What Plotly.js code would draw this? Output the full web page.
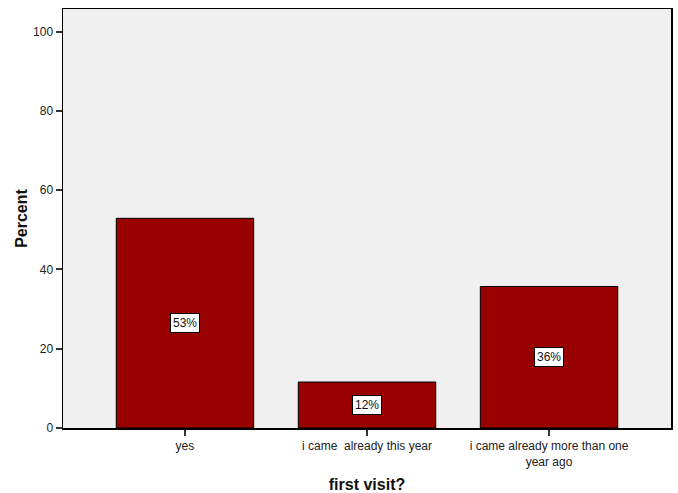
<!DOCTYPE html>
<html>
<head>
<meta charset="utf-8">
<script src="https://cdn.plot.ly/plotly-3.0.1.min.js"></script>
<style>html,body{margin:0;padding:0;background:#fff;}#chart{width:678px;height:493px;}</style>
</head>
<body>
<div id="chart"></div>
<script>
const categories = ["yes", "i came\u00a0 already this year", "i came already more than one<br>year ago"];
const percents = [52.9, 11.6, 35.7];
const labels = ["53%", "12%", "36%"];

const trace = {
  type: "bar",
  x: categories,
  y: percents,
  width: 0.755,
  marker: {color: "#990000", line: {color: "#000000", width: 1}},
  hoverinfo: "none"
};

const annotations = categories.map((c, i) => ({
  x: c, y: percents[i] / 2, xref: "x", yref: "y",
  text: labels[i], showarrow: false,
  bgcolor: "#ffffff", bordercolor: "#000000", borderwidth: 1, borderpad: 2,
  font: {family: "Arial, Liberation Sans, sans-serif", size: 12, color: "#111"}
}));

const layout = {
  width: 678, height: 493,
  margin: {l: 63, r: 7, t: 9, b: 65},
  paper_bgcolor: "#ffffff",
  plot_bgcolor: "#f0f0f0",
  showlegend: false,
  font: {family: "Arial, Liberation Sans, sans-serif", size: 12, color: "#222"},
  xaxis: {
    type: "category",
    range: [-0.67, 2.67],
    showline: true, linecolor: "#000", linewidth: 1.5, mirror: true,
    ticks: "outside", ticklen: 6, tickwidth: 2, tickcolor: "#333",
    showgrid: false, zeroline: false,
    tickfont: {size: 12, color: "#222"},
    title: {text: "<b>first visit?</b>", font: {size: 16, color: "#111"}, standoff: 11}
  },
  yaxis: {
    range: [0, 105.7],
    tickvals: [0, 20, 40, 60, 80, 100],
    showline: true, linecolor: "#000", linewidth: 1.5, mirror: true,
    ticks: "outside", ticklen: 6, tickwidth: 2, tickcolor: "#333",
    showgrid: false, zeroline: false,
    tickfont: {size: 12, color: "#222"},
    title: {text: "<b>Percent</b>", font: {size: 16, color: "#111"}, standoff: 1}
  },
  annotations: annotations
};

Plotly.newPlot("chart", [trace], layout, {displayModeBar: false, staticPlot: true});
</script>
</body>
</html>
